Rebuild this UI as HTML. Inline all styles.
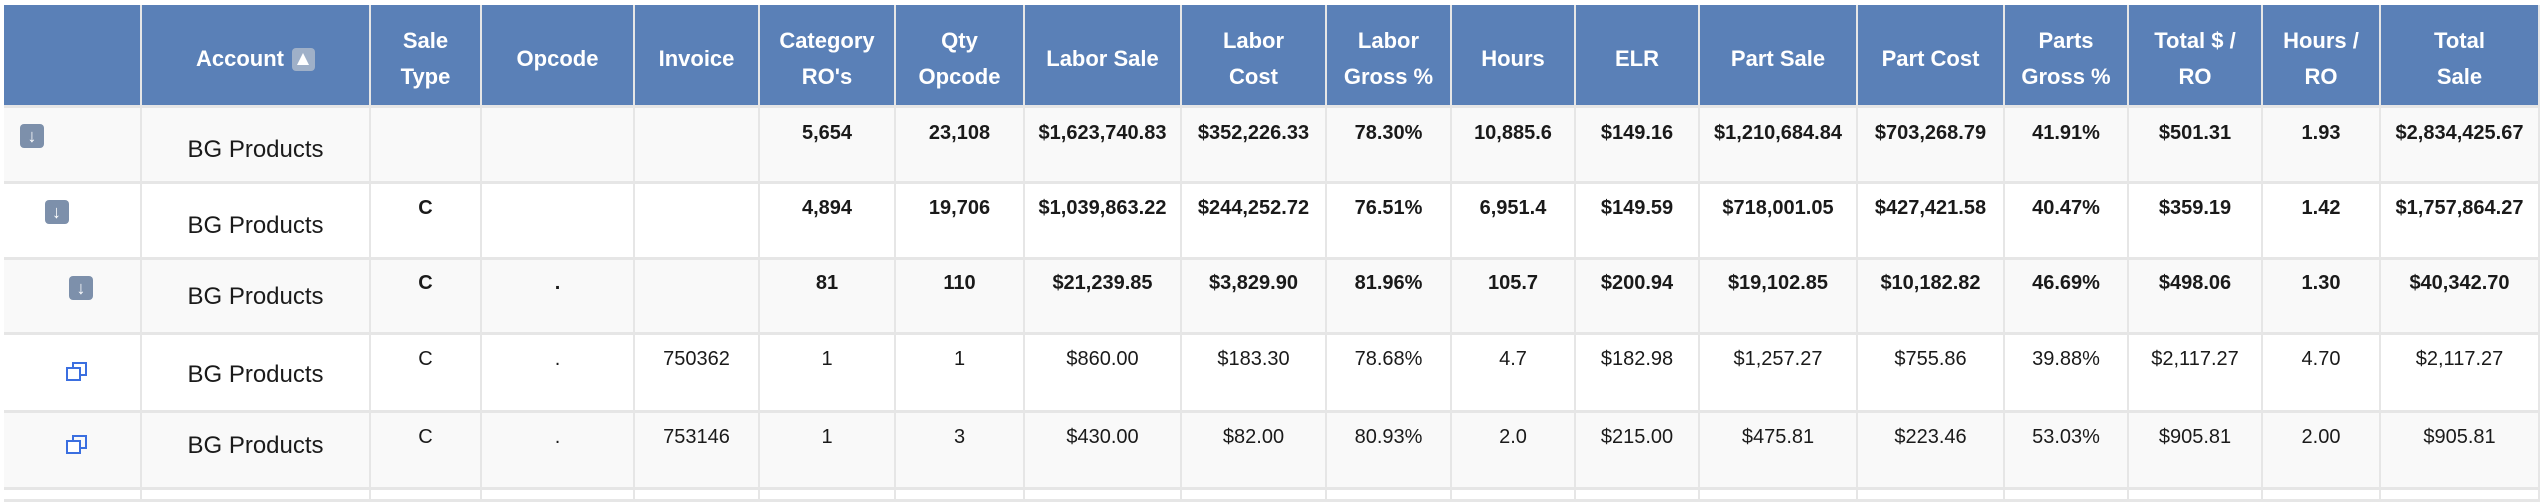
<!DOCTYPE html>
<html><head><meta charset="utf-8">
<style>
body{margin:0;width:2540px;height:502px;overflow:hidden;background:#fff;font-family:"Liberation Sans",sans-serif;}
#t{position:absolute;left:0;top:0;width:2540px;height:502px;}
.c{position:absolute;box-sizing:border-box;border-right:2px solid #e6e6e6;border-bottom:3px solid #e6e6e6;text-align:center;color:#1a1a1a;}
.h{background:#5a80b7;color:#fff;font-weight:bold;font-size:22px;line-height:36px;border-color:#e6e6e6;display:flex;align-items:center;justify-content:center;padding-top:8px;}
.v{font-size:20px;}
.b{font-weight:bold;}
.ic{position:absolute;}
</style></head><body>
<div id="t"></div>
<script>
const headers=["","Account","Sale<br>Type","Opcode","Invoice","Category<br>RO's","Qty<br>Opcode","Labor Sale","Labor<br>Cost","Labor<br>Gross %","Hours","ELR","Part Sale","Part Cost","Parts<br>Gross %","Total $ /<br>RO","Hours /<br>RO","Total<br>Sale"];
const colEdges=[4,142,371,482,635,760,896,1025,1182,1327,1452,1576,1700,1858,2005,2129,2263,2381,2540];
const rowEdges=[5,108,184,260,335,413,490,502];
const textTop=[124,199,274,350,428];
const rows=[
["","BG Products","","","","5,654","23,108","$1,623,740.83","$352,226.33","78.30%","10,885.6","$149.16","$1,210,684.84","$703,268.79","41.91%","$501.31","1.93","$2,834,425.67"],
["","BG Products","C","","","4,894","19,706","$1,039,863.22","$244,252.72","76.51%","6,951.4","$149.59","$718,001.05","$427,421.58","40.47%","$359.19","1.42","$1,757,864.27"],
["","BG Products","C",".","","81","110","$21,239.85","$3,829.90","81.96%","105.7","$200.94","$19,102.85","$10,182.82","46.69%","$498.06","1.30","$40,342.70"],
["","BG Products","C",".","750362","1","1","$860.00","$183.30","78.68%","4.7","$182.98","$1,257.27","$755.86","39.88%","$2,117.27","4.70","$2,117.27"],
["","BG Products","C",".","753146","1","3","$430.00","$82.00","80.93%","2.0","$215.00","$475.81","$223.46","53.03%","$905.81","2.00","$905.81"]];
const bold=[true,true,true,false,false];
const nameShift=[10,10,2,4,-8];
const t=document.getElementById('t');
function cell(x0,x1,y0,y1,cls){const d=document.createElement('div');d.className='c '+cls;d.style.left=x0+'px';d.style.top=y0+'px';d.style.width=(x1-x0)+'px';d.style.height=(y1-y0)+'px';t.appendChild(d);return d;}
headers.forEach((h,i)=>{const d=cell(colEdges[i],colEdges[i+1],rowEdges[0],rowEdges[1],'h');


d.innerHTML=h+(i==1?' <span style="display:inline-block;width:23px;height:23px;background:#9fb0c8;border-radius:4px;margin-left:8px;vertical-align:-3px;position:relative"><span style="position:absolute;left:5px;top:5px;border-left:6px solid transparent;border-right:6px solid transparent;border-bottom:12px solid #fff"></span></span>':'');});
for(let r=0;r<rows.length+1;r++){
 const y0=rowEdges[r+1],y1=rowEdges[r+2];
 for(let i=0;i<headers.length;i++){
  const d=cell(colEdges[i],colEdges[i+1],y0,y1,'v'+((r<rows.length&&bold[r])?' b':''));
  d.style.background=(r%2==0)?'#f9f9f9':'#fff';
  
  
  if(r>=rows.length)continue;
  const v=rows[r][i];
  if(i==1){d.style.fontSize='24px';d.style.fontWeight='normal';d.style.display='flex';d.style.alignItems='center';d.style.justifyContent='center';
   const s=document.createElement('span');s.style.position='relative';s.style.top=(nameShift[r]/2)+'px';s.textContent=v;d.appendChild(s);}
  else if(i==0){
   const ic=document.createElement('div');ic.className='ic';
   if(r<3){ic.style.cssText='left:'+(16+r*24.5)+'px;top:'+(r==0?16:r==1?16:16)+'px;width:24px;height:24px;background:#7d90ab;border-radius:4px;color:#fff;font-size:18px;font-weight:bold;line-height:24px;text-align:center;';ic.textContent='↓';}
   else{ic.style.cssText='left:62px;top:'+(r==3?27:22)+'px;width:22px;height:20px;';ic.innerHTML='<svg width="22" height="20"><rect x="7" y="1" width="13" height="12" fill="none" stroke="#3b6fe0" stroke-width="2"/><rect x="1" y="6" width="13" height="12" fill="#fff" stroke="#3b6fe0" stroke-width="2"/></svg>';}
   
   
   d.appendChild(ic);
  } else {const s=document.createElement('div');s.style.cssText='position:absolute;left:0;right:0;top:'+(textTop[r]-y0-2)+'px;';s.textContent=v;d.appendChild(s);}
 }
}
</script>
</body></html>
